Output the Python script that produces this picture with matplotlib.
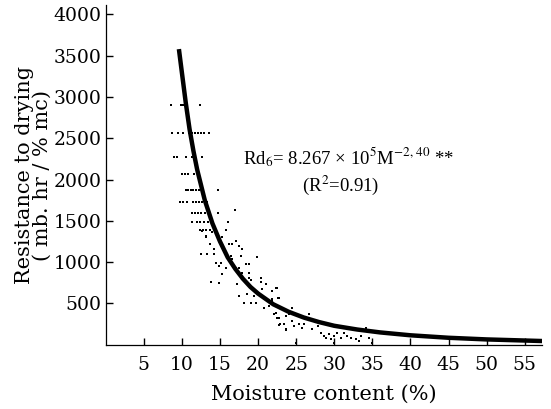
import matplotlib
matplotlib.use("Agg")
import matplotlib.pyplot as plt

plt.rcParams['font.family'] = ['DejaVu Serif']
plt.rcParams['mathtext.fontset'] = 'stix'

# fitted curve
curve_m = [9.6, 10, 10.5, 11, 11.5, 12, 13, 14, 15, 16, 17, 18, 19, 20, 22, 24, 26, 28, 30, 33, 36, 40, 45, 50, 57.5]
curve_rd = [3580, 3290, 2930, 2610, 2350, 2120, 1750, 1470, 1250, 1060, 920, 800, 700, 620, 490, 400, 330, 275, 230, 185, 150, 115, 85, 65, 45]

# observed points (moisture %, resistance)
obs_m = [8.55, 9.9, 10.1, 10.4, 10.7, 12.4,
         8.7, 9.5, 10.1, 10.9, 11.3, 11.7, 12.1, 12.5, 12.9, 13.5,
         8.9, 9.3, 10.5, 11.3, 12.6,
         10.0, 10.4, 10.8, 11.6, 12.2,
         10.5, 10.8, 11.2, 11.5, 11.8, 12.2, 12.6, 14.7,
         9.7, 10.2, 10.6, 11.4, 11.8, 12.2, 12.6, 13.3,
         11.3, 11.7, 12.1, 12.5, 13.0, 13.5, 14.7, 17.0,
         11.3, 12.0, 12.4, 12.9, 13.4, 16.0,
         12.4, 12.8, 13.2, 13.7, 15.8, 13.2,
         12.6, 13.9,
         12.5, 13.3, 14.2, 14.2, 13.7, 13.2, 15.3, 16.2, 16.6, 17.1, 17.5, 17.9, 17.8, 19.9,
         16.4, 16.6, 14.5, 15.1, 15.8, 14.9, 15.3, 14.9, 13.8, 17.1, 17.5, 18.4, 18.8, 17.9,
         18.8, 18.8, 19.1, 20.4, 20.4, 17.2, 17.5, 18.2, 19.1, 19.7, 20.1, 20.5, 21.1, 21.8,
         22.5, 22.8, 21.8, 20.8, 21.4, 22.4, 22.8, 22.8, 23.6, 23.7, 19.5, 18.6,
         22.4, 22.6, 21.8, 22.1, 22.5, 22.9, 23.7, 23.4, 24.5, 24.1, 24.5, 24.7, 25.4, 25.7,
         26.0, 26.7, 27.1, 25.0, 27.8, 28.3, 28.7, 28.9, 29.3, 29.6, 30.0, 30.0, 30.4, 30.9,
         31.3, 31.7, 32.2, 32.9, 33.3, 33.5, 34.2, 34.6, 34.9]
obs_rd = [2900, 2900, 2900, 2900, 2900, 2900,
          2570, 2570, 2570, 2570, 2570, 2570, 2570, 2570, 2570, 2570,
          2275, 2275, 2275, 2275, 2275,
          2070, 2070, 2070, 2070, 2070,
          1875, 1875, 1875, 1875, 1875, 1875, 1875, 1875,
          1730, 1730, 1730, 1730, 1730, 1730, 1730, 1730,
          1600, 1600, 1600, 1600, 1600, 1600, 1600, 1630,
          1490, 1490, 1490, 1490, 1490, 1490,
          1390, 1390, 1390, 1390, 1390, 1320,
          1380, 1360,
          1100, 1100, 1160, 1100, 1220, 1310, 1310, 1220, 1220, 1260, 1190, 1160, 1080, 1065,
          1080, 1040, 990, 990, 930, 955, 860, 750, 760, 930, 930, 980, 980, 870,
          870, 810, 790, 810, 760, 740, 590, 510, 510, 500, 630, 680, 730, 650,
          690, 570, 530, 450, 470, 390, 330, 240, 190, 350, 590, 620,
          690, 570, 560, 375, 330, 255, 180, 255, 450, 375, 290, 230, 255, 205,
          255, 375, 195, 25, 230, 145, 110, 85, 135, 75, 110, 25, 145, 85,
          145, 110, 85, 75, 50, 110, 205, 85, 25]

x_ticks = [5, 10, 15, 20, 25, 30, 35, 40, 45, 50, 55]
y_ticks = [500, 1000, 1500, 2000, 2500, 3000, 3500, 4000]

fig = plt.figure(figsize=(5.51, 4.09), dpi=100)
ax = fig.add_axes([0.192, 0.157, 0.792, 0.83])

ax.scatter(obs_m, obs_rd, s=3, marker='s', color='black', linewidths=0)
ax.plot(curve_m, curve_rd, color='black', lw=3.2, solid_capstyle='butt')

ax.set_xlim(0, 57.3)
ax.set_ylim(0, 4110)
ax.set_xticks(x_ticks)
ax.set_yticks(y_ticks)
ax.tick_params(axis='both', direction='in', length=5, width=1, labelsize=13.5, color='black')
ax.tick_params(axis='x', pad=8)
ax.tick_params(axis='y', pad=3)
for s in ['top', 'right']:
    ax.spines[s].set_visible(False)
for s in ['left', 'bottom']:
    ax.spines[s].set_linewidth(0.9)

ax.set_xlabel('Moisture content (%)', fontsize=15, labelpad=8)
ax.set_ylabel('Resistance to drying\n( mb. hr / % mc)', fontsize=15, labelpad=1, linespacing=0.95)

ax.text(18.0, 2275, r'Rd$_6$= 8.267 × 10$^5$M$^{-2,\,40}$ **', fontsize=13.5, ha='left', va='center',
        family='Liberation Serif')
ax.text(25.8, 1930, r'(R$^2$=0.91)', fontsize=13.5, ha='left', va='center', family='Liberation Serif')

fig.savefig('out.png', dpi=100)
